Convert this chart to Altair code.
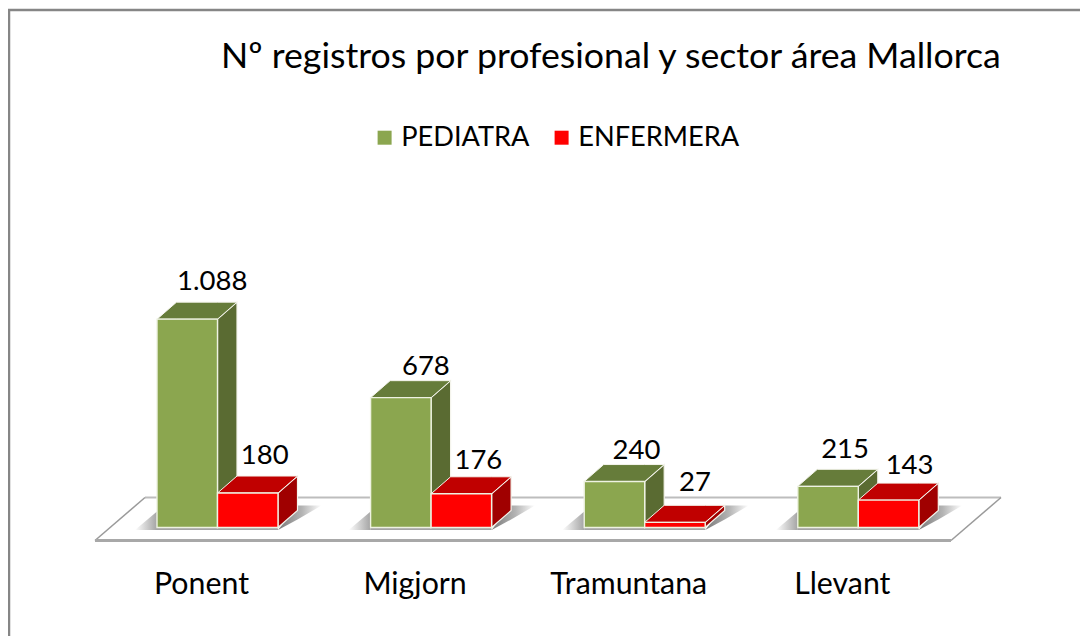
import altair as alt
import pandas as pd

# ---- data ----
categories = ["Ponent", "Migjorn", "Tramuntana", "Llevant"]
series_names = ["PEDIATRA", "ENFERMERA"]
pediatra = [1088, 678, 240, 215]
enfermera = [180, 176, 27, 143]
pediatra_labels = ["1.088", "678", "240", "215"]
enfermera_labels = ["180", "176", "27", "143"]
title_text = "Nº registros por profesional y sector área Mallorca"

# ---- layout: scale factors in page pixels ----
PX_PER_CAT = 213.6
PX_PER_VAL = 0.1915
ORIGIN_X = 217.5
ORIGIN_Y = 527.5
W, H = 1072, 628
FONT = "Lato"

def dx(px):
    return px / PX_PER_CAT

def dv(px):
    return px / PX_PER_VAL

def page_x(px):
    return (px - ORIGIN_X) / PX_PER_CAT

def page_y(px):
    return (ORIGIN_Y - px) / PX_PER_VAL

X = alt.X("x:Q", axis=None, scale=alt.Scale(domain=[page_x(8), page_x(8 + W)], nice=False, zero=False, padding=0))
X2 = alt.X2("x2:Q")
Y = alt.Y("y:Q", axis=None, scale=alt.Scale(domain=[page_y(8 + H), page_y(8)], nice=False, zero=False, padding=0))
Y2 = alt.Y2("y2:Q")

BAR_W = dx(60.5)
DEPTH_X = dx(19.5)
DEPTH_Y = dv(17)

colors = {
    "PEDIATRA": ("#8BA64F", "#667C3A", "#5A6B32"),
    "ENFERMERA": ("#FF0000", "#C00000", "#A00000"),
}

fronts, sides, tops = [], [], []
for name, values, start in [("PEDIATRA", pediatra, -BAR_W), ("ENFERMERA", enfermera, 0.0)]:
    for i, (c, v) in enumerate(zip(categories, values)):
        xl = i + start
        xr = xl + BAR_W
        fronts.append(dict(series=name, cat=c, x=xl, x2=xr, y=v, y2=0))
        sides += [
            dict(series=name, cat=c, x=xr, y=v, y2=0),
            dict(series=name, cat=c, x=xr + DEPTH_X, y=v + DEPTH_Y, y2=DEPTH_Y),
        ]
        tops += [
            dict(series=name, cat=c, x=xl, y=v, y2=v),
            dict(series=name, cat=c, x=xl + DEPTH_X, y=v + DEPTH_Y, y2=v),
            dict(series=name, cat=c, x=xr, y=v + DEPTH_Y, y2=v),
            dict(series=name, cat=c, x=xr + DEPTH_X, y=v + DEPTH_Y, y2=v + DEPTH_Y),
        ]
fronts = pd.DataFrame(fronts)
sides = pd.DataFrame(sides)
tops = pd.DataFrame(tops)

layers = []

# frame
frame_top = pd.DataFrame([dict(x=page_x(8), y=page_y(10)), dict(x=page_x(8 + W), y=page_y(10))])
frame_left = pd.DataFrame([dict(x=page_x(9), y=page_y(10)), dict(x=page_x(9), y=page_y(8 + H))])
for f in (frame_top, frame_left):
    layers.append(alt.Chart(f).mark_line(color="#868686", strokeWidth=2.5).encode(x=X, y=Y))

# floor
fx = [page_x(95), page_x(145), page_x(951), page_x(1001)]
fy_front, fy_back = page_y(540.5), page_y(497.5)
floor = pd.DataFrame([
    dict(x=fx[0], y=fy_front, y2=fy_front),
    dict(x=fx[1], y=fy_back, y2=fy_front),
    dict(x=fx[2], y=fy_back, y2=fy_front),
    dict(x=fx[3], y=fy_back, y2=fy_back),
])
layers.append(alt.Chart(floor).mark_area(color="#FFFFFF", line=False).encode(x=X, y=Y, y2=Y2))
edges = [
    (pd.DataFrame([dict(x=fx[1], y=fy_back), dict(x=fx[3], y=fy_back)]), "#BDBDBD", 2.2),
    (pd.DataFrame([dict(x=fx[0], y=fy_front), dict(x=fx[1], y=fy_back)]), "#9A9A9A", 1.5),
    (pd.DataFrame([dict(x=fx[2], y=fy_front), dict(x=fx[3], y=fy_back)]), "#9A9A9A", 1.5),
    (pd.DataFrame([dict(x=fx[0], y=fy_front), dict(x=fx[2], y=fy_front)]), "#A8A8A8", 3),
]
for e, col, sw in edges:
    layers.append(alt.Chart(e).mark_line(color=col, strokeWidth=sw).encode(x=X, y=Y))

# shadows on the floor
fade_right = alt.Gradient(gradient="linear", x1=0, x2=1, y1=0, y2=0, stops=[
    alt.GradientStop(color="#7A7A7A", offset=0),
    alt.GradientStop(color="#B4B4B4", offset=0.55),
    alt.GradientStop(color="#FFFFFF", offset=1),
])
fade_left = alt.Gradient(gradient="linear", x1=0, x2=1, y1=0, y2=0, stops=[
    alt.GradientStop(color="#FFFFFF", offset=0),
    alt.GradientStop(color="#A4A4A4", offset=1),
])
for i in range(len(categories)):
    left = i - BAR_W
    right = i + BAR_W
    sh_top = dv(22)
    sh_bot = -dv(2.5)
    right_wedge = pd.DataFrame([
        dict(x=right, y=sh_bot, y2=sh_bot),
        dict(x=right + DEPTH_X, y=sh_top, y2=dv(8)),
        dict(x=right + DEPTH_X + dx(24), y=sh_top, y2=sh_top),
    ])
    left_wedge = pd.DataFrame([
        dict(x=left - dx(22), y=sh_bot, y2=sh_bot),
        dict(x=left, y=dv(16), y2=sh_bot),
    ])
    strip = pd.DataFrame([dict(x=left, x2=right, y=0, y2=sh_bot)])
    layers.append(alt.Chart(right_wedge).mark_area(color=fade_right).encode(x=X, y=Y, y2=Y2))
    layers.append(alt.Chart(left_wedge).mark_area(color=fade_left).encode(x=X, y=Y, y2=Y2))
    layers.append(alt.Chart(strip).mark_rect(color="#A4A4A4").encode(x=X, x2=X2, y=Y, y2=Y2))

# 3D faces
for name in series_names:
    _, top_col, side_col = colors[name]
    for c in categories:
        s = sides[(sides.series == name) & (sides.cat == c)]
        t = tops[(tops.series == name) & (tops.cat == c)]
        layers.append(alt.Chart(s).mark_area(color=side_col, stroke="#F4F4EC", strokeWidth=1.2).encode(x=X, y=Y, y2=Y2))
        layers.append(alt.Chart(t).mark_area(color=top_col, stroke="#F4F4EC", strokeWidth=1.0).encode(x=X, y=Y, y2=Y2))

# front faces and the legend
layers.append(
    alt.Chart(fronts).mark_bar(stroke="#EEF2E2", strokeWidth=1.4).encode(
        x=X, x2=X2, y=Y, y2=Y2,
        color=alt.Color(
            "series:N",
            scale=alt.Scale(domain=series_names, range=[colors[n][0] for n in series_names]),
            legend=alt.Legend(
                title=None, orient="none", legendX=363, legendY=116, direction="horizontal",
                symbolType="square", symbolSize=196, symbolStrokeWidth=0,
                labelFont=FONT, labelFontSize=27.2, labelColor="#000000", labelOffset=3,
                columnPadding=18, labelLimit=300, symbolOpacity=1, padding=0,
            ),
        ),
    )
)

# value labels (pixel nudges from the bar's front-top centre)
nudge_x = [25, 25, 22, 17, 17, 17, 20, 21]
nudge_y = [29, 23, 23, 28, 29, 25, 31, 26]
labels = pediatra_labels + enfermera_labels
vals = pediatra + enfermera
centres = [i - BAR_W / 2 for i in range(4)] + [i + BAR_W / 2 for i in range(4)]
label_df = pd.DataFrame(dict(
    x=[c + dx(n) for c, n in zip(centres, nudge_x)],
    y=[v + dv(n) for v, n in zip(vals, nudge_y)],
    text=labels,
))
layers.append(alt.Chart(label_df).mark_text(font=FONT, fontSize=27.5, color="#000000", baseline="alphabetic", align="center").encode(x=X, y=Y, text="text:N"))

# category labels
cat_df = pd.DataFrame(dict(
    x=[i - dx(16) for i in range(4)],
    y=[page_y(594)] * 4,
    text=categories,
))
layers.append(alt.Chart(cat_df).mark_text(font=FONT, fontSize=30.3, color="#000000", baseline="alphabetic", align="center").encode(x=X, y=Y, text="text:N"))

chart = alt.layer(*layers).properties(
    width=W, height=H,
    padding=0,
    autosize=alt.AutoSizeParams(type="none"),
    background="#FFFFFF",
    title=alt.Title(title_text, anchor="start", frame="group", dx=213, offset=-99,
                    font=FONT, fontSize=35.7, fontWeight="normal", color="#000000", baseline="alphabetic"),
).configure_view(stroke=None)

chart.save("out.html", embed_options={"renderer": "svg", "actions": False})
